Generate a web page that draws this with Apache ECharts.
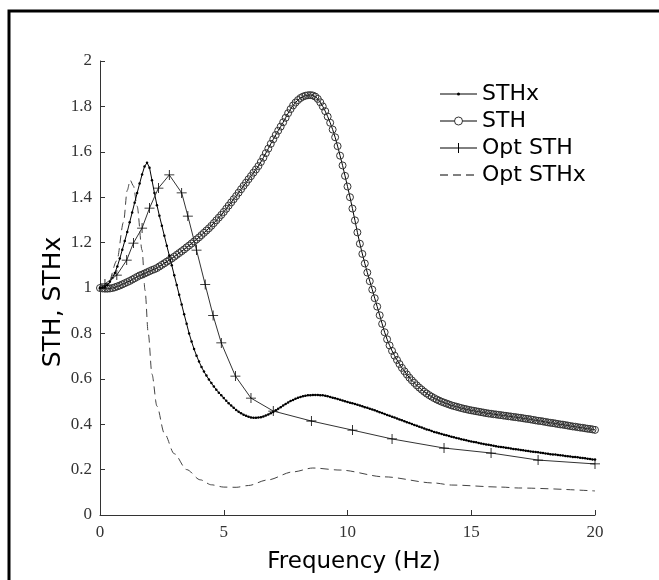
<!DOCTYPE html>
<html>
<head>
<meta charset="utf-8">
<script src="https://cdn.jsdelivr.net/npm/echarts@6/dist/echarts.min.js"></script>
<style>
html,body{margin:0;padding:0;background:#fff;}
#chart{width:659px;height:580px;}
</style>
</head>
<body>
<div id="chart"></div>
<script>
// Frequency sample grid (Hz) for the dense series: 0 to 20 in 0.1 steps
const freqHz = Array.from({length: 201}, (_, i) => i / 10);

// STH (circles)
const sthValues = [
1.000,0.998,0.997,0.997,0.998,1.000,1.003,1.007,1.011,1.016,
1.021,1.026,1.031,1.037,1.043,1.049,1.055,1.059,1.064,1.069,
1.074,1.079,1.083,1.088,1.095,1.102,1.109,1.116,1.123,1.130,
1.138,1.146,1.154,1.162,1.170,1.179,1.187,1.196,1.205,1.214,
1.223,1.233,1.243,1.253,1.263,1.274,1.286,1.298,1.310,1.322,
1.335,1.349,1.363,1.377,1.391,1.405,1.420,1.435,1.450,1.464,
1.479,1.493,1.508,1.522,1.537,1.555,1.574,1.594,1.614,1.635,
1.655,1.674,1.693,1.711,1.730,1.750,1.770,1.788,1.804,1.817,
1.828,1.837,1.843,1.847,1.849,1.850,1.848,1.843,1.833,1.818,
1.800,1.779,1.755,1.728,1.698,1.664,1.625,1.583,1.540,1.494,
1.447,1.400,1.350,1.298,1.245,1.195,1.150,1.108,1.068,1.030,
0.993,0.955,0.918,0.880,0.842,0.805,0.774,0.747,0.723,0.702,
0.683,0.665,0.648,0.633,0.619,0.605,0.593,0.582,0.571,0.561,
0.552,0.543,0.535,0.528,0.521,0.515,0.509,0.504,0.499,0.495,
0.491,0.487,0.483,0.480,0.477,0.474,0.471,0.468,0.466,0.463,
0.461,0.459,0.457,0.455,0.453,0.451,0.449,0.447,0.446,0.444,
0.443,0.441,0.440,0.438,0.437,0.435,0.434,0.432,0.431,0.429,
0.428,0.426,0.424,0.423,0.421,0.419,0.417,0.415,0.414,0.412,
0.410,0.408,0.406,0.405,0.403,0.401,0.399,0.398,0.396,0.394,
0.392,0.390,0.389,0.387,0.385,0.384,0.382,0.380,0.379,0.377,
0.375
];

// STHx (small dots)
const sthxValues = [
1.000,1.002,1.006,1.014,1.027,1.044,1.066,1.095,1.130,1.168,
1.207,1.247,1.290,1.333,1.376,1.418,1.460,1.500,1.535,1.552,
1.530,1.475,1.418,1.365,1.318,1.274,1.230,1.186,1.143,1.100,
1.056,1.013,0.970,0.927,0.884,0.842,0.800,0.764,0.731,0.702,
0.676,0.652,0.632,0.614,0.597,0.581,0.566,0.552,0.539,0.527,
0.515,0.503,0.492,0.482,0.472,0.463,0.455,0.448,0.442,0.437,
0.433,0.430,0.428,0.428,0.429,0.431,0.434,0.438,0.443,0.448,
0.454,0.461,0.468,0.475,0.482,0.489,0.496,0.502,0.507,0.512,
0.516,0.520,0.523,0.525,0.527,0.528,0.529,0.529,0.529,0.528,
0.527,0.525,0.523,0.520,0.517,0.514,0.511,0.508,0.504,0.501,
0.498,0.495,0.492,0.489,0.486,0.482,0.479,0.475,0.472,0.468,
0.465,0.461,0.457,0.453,0.449,0.445,0.441,0.437,0.433,0.429,
0.425,0.421,0.417,0.413,0.409,0.405,0.401,0.397,0.393,0.389,
0.385,0.381,0.377,0.374,0.370,0.366,0.363,0.360,0.357,0.354,
0.351,0.348,0.345,0.342,0.339,0.337,0.334,0.331,0.329,0.326,
0.324,0.322,0.320,0.317,0.315,0.313,0.311,0.309,0.307,0.305,
0.303,0.301,0.300,0.298,0.296,0.295,0.293,0.291,0.290,0.288,
0.286,0.285,0.283,0.282,0.280,0.279,0.277,0.276,0.274,0.273,
0.271,0.270,0.268,0.267,0.266,0.264,0.263,0.262,0.260,0.259,
0.258,0.256,0.255,0.254,0.252,0.251,0.250,0.248,0.247,0.245,
0.244
];

// Opt STH (plus markers)
const optSthFreq = [0.2,0.68,1.08,1.35,1.7,2.0,2.36,2.8,3.3,3.55,3.9,4.25,4.57,4.9,5.47,6.1,7.0,8.54,10.2,11.8,13.9,15.8,17.7,20.0];
const optSthValues = [1.018,1.057,1.123,1.198,1.264,1.352,1.44,1.498,1.419,1.317,1.167,1.015,0.879,0.758,0.612,0.515,0.458,0.414,0.374,0.335,0.295,0.273,0.242,0.225];

// Opt STHx (dashed)
const optSthxFreq = [0,0.33,0.68,0.95,1.1,1.22,1.35,1.5,1.7,1.82,1.95,2.1,2.3,2.6,3.0,3.5,4.05,4.5,5.0,5.5,6.0,6.75,7.8,8.6,9.7,11.5,13.5,14.2,16.2,16.9,20.0];
const optSthxValues = [1.0,1.02,1.12,1.29,1.43,1.475,1.45,1.36,1.167,0.99,0.80,0.62,0.48,0.36,0.27,0.20,0.155,0.133,0.123,0.122,0.13,0.154,0.19,0.207,0.198,0.168,0.141,0.132,0.123,0.119,0.106];

const seriesNames = ['STHx', 'STH', 'Opt STH', 'Opt STHx'];
const xTicks = {min: 0, max: 20, interval: 5};
const yTicks = {min: 0, max: 2, interval: 0.2};

const pair = (xs, ys) => xs.map((x, i) => [x, ys[i]]);
const plusPath = 'path://M0,4.6L10,4.6L10,5.4L0,5.4Z M4.6,0L5.4,0L5.4,10L4.6,10Z';

// Legend drawn as graphic elements (line + marker + text per row)
const legendX = 440, legendLineW = 37, legendTop = 94, legendStep = 27;
function legendRow(i, marker, dash) {
  const y = legendTop + i * legendStep;
  const cx = legendX + legendLineW / 2;
  const els = [{
    type: 'line', shape: {x1: legendX, y1: y, x2: legendX + legendLineW, y2: y},
    style: {stroke: '#000', lineWidth: 1, lineDash: dash || null}
  }];
  if (marker === 'dot') els.push({type: 'circle', shape: {cx: cx, cy: y, r: 1.5}, style: {fill: '#000'}});
  if (marker === 'circle') els.push({type: 'circle', shape: {cx: cx, cy: y, r: 4}, style: {fill: '#fff', stroke: '#333', lineWidth: 1}});
  if (marker === 'plus') els.push({type: 'line', shape: {x1: cx, y1: y - 5, x2: cx, y2: y + 5}, style: {stroke: '#000', lineWidth: 1}});
  els.push({type: 'text', x: legendX + legendLineW + 5, y: y,
    style: {text: seriesNames[i], fontFamily: 'DejaVu Sans', fontSize: 22, fill: '#000', align: 'left', verticalAlign: 'middle'}});
  return els;
}

const chart = echarts.init(document.getElementById('chart'), null, {renderer: 'canvas'});
const tickFont = {fontFamily: 'Liberation Serif', fontSize: 17, color: '#333'};
chart.setOption({
  animation: false,
  backgroundColor: '#fff',
  grid: {left: 100, right: 64, top: 61, bottom: 65, containLabel: false},
  xAxis: {
    type: 'value', min: xTicks.min, max: xTicks.max, interval: xTicks.interval,
    axisLine: {lineStyle: {color: '#333', width: 1}},
    axisTick: {inside: true, length: 5, lineStyle: {color: '#333'}},
    axisLabel: Object.assign({margin: 9}, tickFont),
    splitLine: {show: false}
  },
  yAxis: {
    type: 'value', min: yTicks.min, max: yTicks.max, interval: yTicks.interval,
    axisLine: {show: true, lineStyle: {color: '#333', width: 1}},
    axisTick: {show: true, inside: true, length: 5, lineStyle: {color: '#333'}},
    axisLabel: Object.assign({margin: 8}, tickFont),
    splitLine: {show: false}
  },
  graphic: [
    {type: 'rect', shape: {x: 9, y: 11, width: 800, height: 700}, style: {fill: 'none', stroke: '#000', lineWidth: 3}, silent: true},
    {type: 'text', x: 354, y: 562, style: {text: 'Frequency (Hz)', fontFamily: 'DejaVu Sans', fontSize: 23, fill: '#000', align: 'center', verticalAlign: 'middle'}},
    {type: 'text', x: 53, y: 302, rotation: Math.PI / 2, style: {text: 'STH, STHx', fontFamily: 'DejaVu Sans', fontSize: 25, fill: '#000', align: 'center', verticalAlign: 'middle'}}
  ].concat(legendRow(0, 'dot'), legendRow(1, 'circle'), legendRow(2, 'plus'), legendRow(3, null, [8, 5])),
  series: [
    {
      name: seriesNames[0], type: 'line', data: pair(freqHz, sthxValues),
      symbol: 'circle', symbolSize: 2.5, showAllSymbol: true,
      lineStyle: {color: '#000', width: 1}, itemStyle: {color: '#000'}, z: 3
    },
    {
      name: seriesNames[1], type: 'line', data: pair(freqHz, sthValues),
      symbol: 'circle', symbolSize: 7, showAllSymbol: true,
      lineStyle: {color: '#000', width: 1},
      itemStyle: {color: 'rgba(255,255,255,0)', borderColor: '#333', borderWidth: 1}, z: 2
    },
    {
      name: seriesNames[2], type: 'line', data: pair(optSthFreq, optSthValues),
      symbol: plusPath, symbolSize: 10, showAllSymbol: true,
      lineStyle: {color: '#333', width: 1}, itemStyle: {color: '#000'}, z: 4
    },
    {
      name: seriesNames[3], type: 'line', data: pair(optSthxFreq, optSthxValues),
      symbol: 'none', smooth: 0.3, smoothMonotone: 'x',
      lineStyle: {color: '#444', width: 1, type: [8, 5]}, z: 1
    }
  ]
});
</script>
</body>
</html>
